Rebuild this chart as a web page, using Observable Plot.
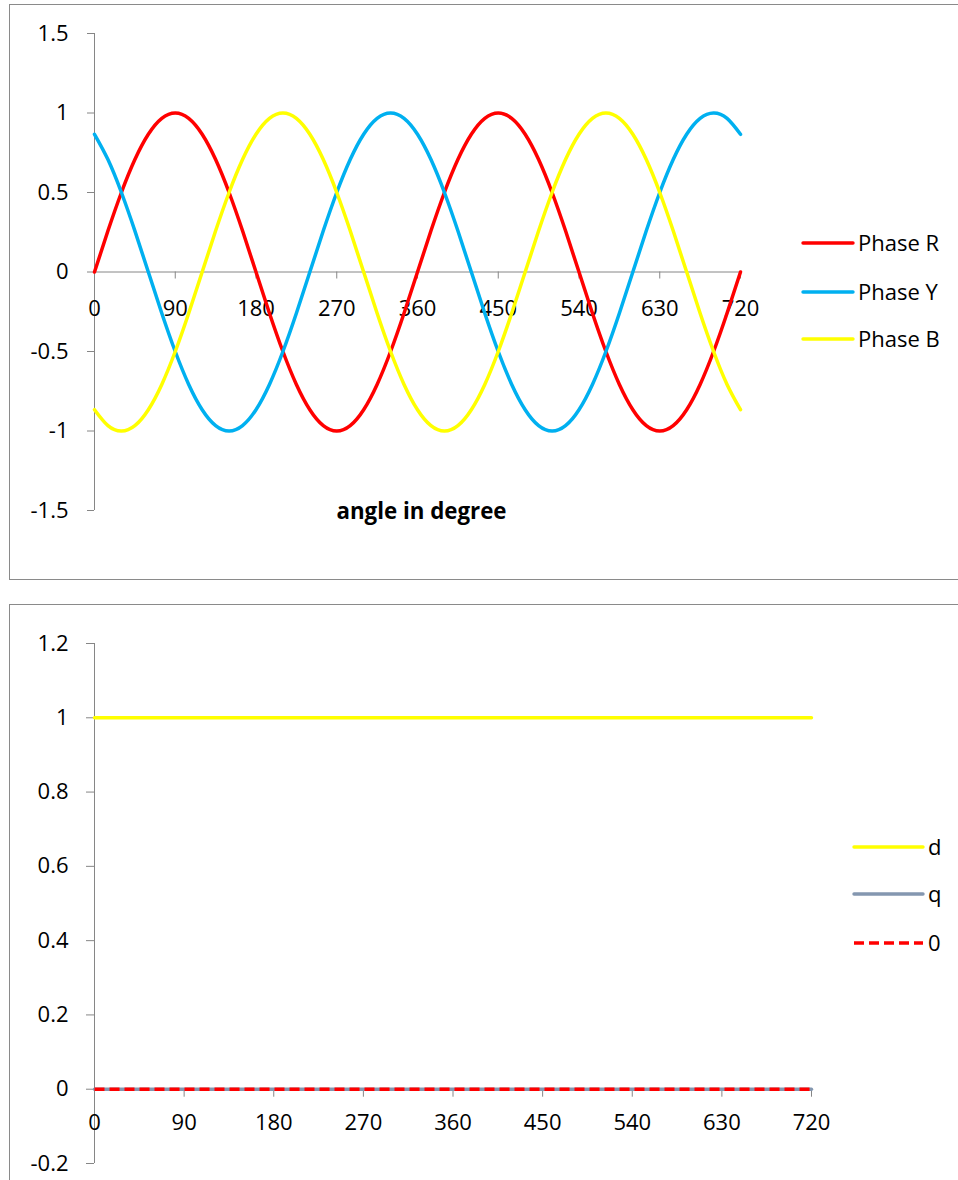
<!DOCTYPE html>
<html>
<head>
<meta charset="utf-8">
<script src="https://cdn.jsdelivr.net/npm/d3@7"></script>
<script src="https://cdn.jsdelivr.net/npm/@observablehq/plot@0.6"></script>
<style>
  html, body { margin: 0; padding: 0; background: #fff; overflow: hidden; width: 958px; height: 1180px; }
  body { position: relative; font-family: "Open Sans", sans-serif; }
  .box { position: absolute; border: 1px solid #8a8a8a; box-sizing: border-box; }
  .chart { position: absolute; left: 0; }
  #legend { position: absolute; left: 0; top: 0; pointer-events: none; }
</style>
</head>
<body>
<div class="box" style="left:9px; top:4px; width:1000px; height:576px"></div>
<div class="box" style="left:9px; top:604px; width:1000px; height:700px"></div>
<div id="phaseChart" class="chart" style="top:0"></div>
<div id="dqChart" class="chart" style="top:600px"></div>
<svg id="legend" width="958" height="1180"></svg>
<script>
// ---- Three-phase waveforms (sampled every 15 degrees) ----
const angles = [0, 15, 30, 45, 60, 75, 90, 105, 120, 135, 150, 165, 180, 195, 210, 225, 240, 255, 270, 285, 300, 315, 330, 345,
  360, 375, 390, 405, 420, 435, 450, 465, 480, 495, 510, 525, 540, 555, 570, 585, 600, 615, 630, 645, 660, 675, 690, 705, 720];
const phaseR = [0, 0.259, 0.5, 0.707, 0.866, 0.966, 1, 0.966, 0.866, 0.707, 0.5, 0.259, 0, -0.259, -0.5, -0.707, -0.866, -0.966, -1, -0.966, -0.866, -0.707, -0.5, -0.259,
  0, 0.259, 0.5, 0.707, 0.866, 0.966, 1, 0.966, 0.866, 0.707, 0.5, 0.259, 0, -0.259, -0.5, -0.707, -0.866, -0.966, -1, -0.966, -0.866, -0.707, -0.5, -0.259, 0];
const phaseY = [0.866, 0.707, 0.5, 0.259, 0, -0.259, -0.5, -0.707, -0.866, -0.966, -1, -0.966, -0.866, -0.707, -0.5, -0.259, 0, 0.259, 0.5, 0.707, 0.866, 0.966, 1, 0.966,
  0.866, 0.707, 0.5, 0.259, 0, -0.259, -0.5, -0.707, -0.866, -0.966, -1, -0.966, -0.866, -0.707, -0.5, -0.259, 0, 0.259, 0.5, 0.707, 0.866, 0.966, 1, 0.966, 0.866];
const phaseB = [-0.866, -0.966, -1, -0.966, -0.866, -0.707, -0.5, -0.259, 0, 0.259, 0.5, 0.707, 0.866, 0.966, 1, 0.966, 0.866, 0.707, 0.5, 0.259, 0, -0.259, -0.5, -0.707,
  -0.866, -0.966, -1, -0.966, -0.866, -0.707, -0.5, -0.259, 0, 0.259, 0.5, 0.707, 0.866, 0.966, 1, 0.966, 0.866, 0.707, 0.5, 0.259, 0, -0.259, -0.5, -0.707, -0.866];

const xTicks = [0, 90, 180, 270, 360, 450, 540, 630, 720];
const yTicksTop = [-1.5, -1, -0.5, 0, 0.5, 1, 1.5];

// ---- d/q frame components ----
const dqAngles = [0, 90, 180, 270, 360, 450, 540, 630, 720];
const dValues = [1, 1, 1, 1, 1, 1, 1, 1, 1];
const qValues = [0, 0, 0, 0, 0, 0, 0, 0, 0];
const zeroValues = [0, 0, 0, 0, 0, 0, 0, 0, 0];
const yTicksBottom = [-0.2, 0, 0.2, 0.4, 0.6, 0.8, 1, 1.2];

const AXIS = "#868686";
const phaseSeries = [
  {name: "Phase R", values: phaseR, color: "#FF0000"},
  {name: "Phase Y", values: phaseY, color: "#00B0F0"},
  {name: "Phase B", values: phaseB, color: "#FFFF00"}
];
const dqSeries = [
  {name: "d", values: dValues, color: "#FFFF00", dash: null},
  {name: "q", values: qValues, color: "#8497B0", dash: null},
  {name: "0", values: zeroValues, color: "#FF0000", dash: "10,5"}
];

const font = {fontFamily: "'Open Sans', sans-serif", fontSize: "22px", color: "#000", background: "transparent", overflow: "visible"};

function rows(xs, ys) { return xs.map((x, i) => ({angle: x, value: ys[i]})); }

// Phase voltages vs angle
const phasePlot = Plot.plot({
  width: 958, height: 590,
  marginLeft: 94, marginRight: 218, marginTop: 33, marginBottom: 80,
  style: font,
  x: {domain: [0, 720], axis: null},
  y: {domain: [-1.5, 1.5], axis: null},
  marks: [
    Plot.ruleX([0], {y1: -1.5, y2: 1.5, stroke: AXIS}),
    Plot.axisY(yTicksTop, {tickSize: 7, tickPadding: 19, tickFormat: d => String(d), stroke: AXIS, fill: "#000", label: null}),
    Plot.ruleY([0], {stroke: AXIS}),
    Plot.ruleX(xTicks, {x: d => d, y1: 0, y2: 0, insetBottom: -7, stroke: AXIS}),
    Plot.text(xTicks, {x: d => d, y: 0, dy: 37, text: d => String(d), fill: "#000"}),
    Plot.text(["angle in degree"], {frameAnchor: "bottom", dx: 4, dy: 8, fontWeight: "bold", fill: "#000", fontSize: 22.3}),
    ...phaseSeries.map(s => Plot.line(rows(angles, s.values), {
      x: "angle", y: "value", stroke: s.color, strokeWidth: 3.5, curve: "natural", strokeLinecap: "round"
    }))
  ]
});
document.getElementById("phaseChart").append(phasePlot);

// d, q and zero-sequence components
const dqPlot = Plot.plot({
  width: 958, height: 580,
  marginLeft: 94, marginRight: 147, marginTop: 43, marginBottom: 17,
  style: font,
  x: {domain: [0, 720], axis: null},
  y: {domain: [-0.2, 1.2], axis: null},
  marks: [
    Plot.ruleX([0], {y1: -0.2, y2: 1.2, stroke: AXIS}),
    Plot.axisY(yTicksBottom, {tickSize: 8, tickPadding: 18, tickFormat: d => String(d), stroke: AXIS, fill: "#000", label: null}),
    Plot.ruleY([0], {stroke: AXIS}),
    Plot.ruleX(xTicks, {x: d => d, y1: 0, y2: 0, insetBottom: -8, stroke: AXIS}),
    Plot.text(xTicks, {x: d => d, y: 0, dy: 34, text: d => String(d), fill: "#000"}),
    ...dqSeries.map(s => Plot.line(rows(dqAngles, s.values), {
      x: "angle", y: "value", stroke: s.color, strokeWidth: 3.4,
      strokeDasharray: s.dash ?? undefined, strokeLinecap: s.dash ? "butt" : "round"
    }))
  ]
});
document.getElementById("dqChart").append(dqPlot);

// Legends beside each chart
const legend = d3.select("#legend");
function drawLegend(items, x1, x2, tx, ys) {
  items.forEach((s, i) => {
    legend.append("line")
      .attr("x1", x1).attr("x2", x2).attr("y1", ys[i]).attr("y2", ys[i])
      .attr("stroke", s.color).attr("stroke-width", 3.4)
      .attr("stroke-linecap", s.dash ? "butt" : "round")
      .attr("stroke-dasharray", s.dash);
    legend.append("text")
      .attr("x", tx).attr("y", ys[i]).attr("dy", "0.35em")
      .attr("font-family", "'Open Sans', sans-serif").attr("font-size", 22).attr("fill", "#000")
      .text(s.name);
  });
}
drawLegend(phaseSeries, 803, 853, 858, [243, 292, 339]);
drawLegend(dqSeries, 854, 923, 928, [847, 894, 943]);
</script>
</body>
</html>
